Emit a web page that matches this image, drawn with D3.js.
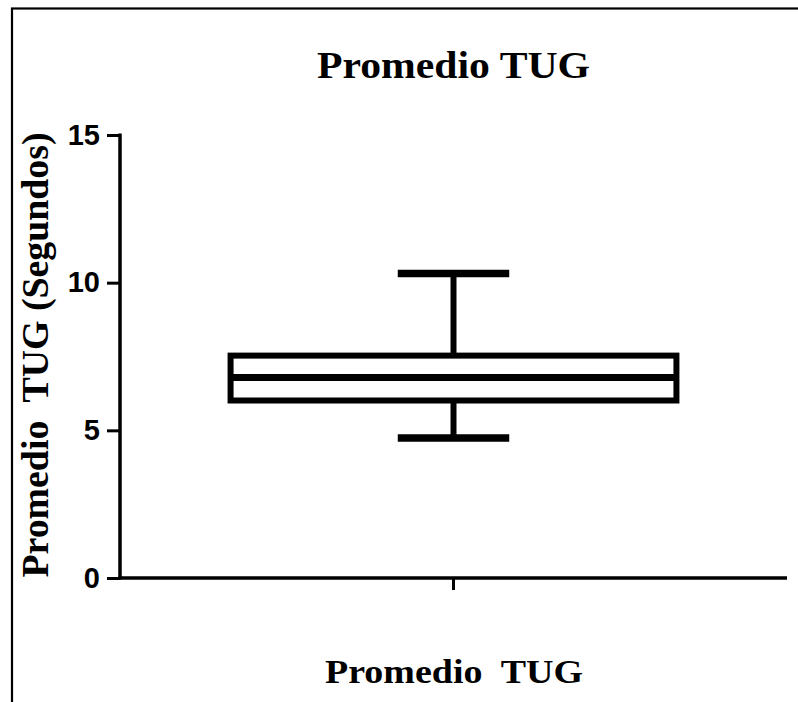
<!DOCTYPE html>
<html>
<head>
<meta charset="utf-8">
<script src="https://cdn.jsdelivr.net/npm/d3@7"></script>
<style>
  body { margin: 0; background: #fff; }
  svg { display: block; }
</style>
</head>
<body>
<svg id="canvas" width="798" height="702"></svg>
<script>
// box plot data (seconds)
let categories = ["Promedio TUG"];
let whiskerMin = [4.74];
let quartile1 = [6.01];
let medians = [6.79];
let quartile3 = [7.53];
let whiskerMax = [10.31];
let yTicks = [0, 5, 10, 15];

let canvas = d3.select("#canvas");

let plotLeft = 120, plotRight = 787;
let plotTop = 135, plotBottom = 578;

let xScale = d3.scaleBand()
    .domain(categories)
    .range([plotLeft, plotRight])
    .paddingInner(0)
    .paddingOuter(0.248);

let yScale = d3.scaleLinear()
    .domain([0, 15])
    .range([plotBottom, plotTop]);

// outer frame
canvas.append("rect")
    .attr("x", 12).attr("y", 8.5)
    .attr("width", 820).attr("height", 820)
    .attr("fill", "none")
    .attr("stroke", "#000")
    .attr("stroke-width", 2.2);

// y axis
let yAxis = canvas.append("g")
    .attr("transform", "translate(" + plotLeft + ",0)")
    .call(d3.axisLeft(yScale).tickValues(yTicks).tickSize(13).tickPadding(7).tickSizeOuter(0));

yAxis.select(".domain").attr("stroke-width", 3.5).attr("d", "M0," + (plotBottom + 1.5) + "V" + (plotTop - 1.5));
yAxis.selectAll(".tick line").attr("stroke-width", 3);
yAxis.selectAll(".tick text")
    .attr("font-family", "'Liberation Sans', Arial, sans-serif")
    .attr("font-weight", "bold")
    .attr("font-size", 29)
    .attr("fill", "#000");

// x axis
let xAxis = canvas.append("g")
    .attr("transform", "translate(0," + plotBottom + ")")
    .call(d3.axisBottom(xScale).tickSize(12).tickSizeOuter(0).tickFormat(""));

xAxis.select(".domain").attr("stroke-width", 3.5).attr("d", "M" + (plotLeft - 1.5) + ",0H" + plotRight);
xAxis.selectAll(".tick line").attr("stroke-width", 3);

// box plot
let boxes = canvas.selectAll(".box")
    .data(categories)
    .enter()
    .append("g")
    .attr("class", "box");

let bw = xScale.bandwidth();
let capW = bw / 4;

boxes.each(function(d, i) {
    let g = d3.select(this);
    let cx = xScale(d) + bw / 2;

    // whiskers
    g.append("line")
        .attr("x1", cx).attr("x2", cx)
        .attr("y1", yScale(quartile3[i])).attr("y2", yScale(whiskerMax[i]))
        .attr("stroke", "#000").attr("stroke-width", 6);
    g.append("line")
        .attr("x1", cx).attr("x2", cx)
        .attr("y1", yScale(quartile1[i])).attr("y2", yScale(whiskerMin[i]))
        .attr("stroke", "#000").attr("stroke-width", 6);

    // caps
    [whiskerMax[i], whiskerMin[i]].forEach(v => {
        g.append("line")
            .attr("x1", cx - capW / 2).attr("x2", cx + capW / 2)
            .attr("y1", yScale(v)).attr("y2", yScale(v))
            .attr("stroke", "#000").attr("stroke-width", 7.5);
    });

    // box
    g.append("rect")
        .attr("x", xScale(d))
        .attr("y", yScale(quartile3[i]))
        .attr("width", bw)
        .attr("height", yScale(quartile1[i]) - yScale(quartile3[i]))
        .attr("fill", "#fff")
        .attr("stroke", "#000")
        .attr("stroke-width", 6);

    // median
    g.append("line")
        .attr("x1", xScale(d)).attr("x2", xScale(d) + bw)
        .attr("y1", yScale(medians[i])).attr("y2", yScale(medians[i]))
        .attr("stroke", "#000").attr("stroke-width", 7);
});

// titles
let serif = "'Liberation Serif', 'Times New Roman', serif";

canvas.append("text")
    .attr("x", 453.5).attr("y", 78)
    .attr("text-anchor", "middle")
    .attr("font-family", serif)
    .attr("font-weight", "bold")
    .attr("font-size", 38)
    .attr("textLength", 273)
    .attr("lengthAdjust", "spacingAndGlyphs")
    .text("Promedio TUG");

canvas.append("text")
    .attr("x", 454).attr("y", 683)
    .attr("text-anchor", "middle")
    .attr("font-family", serif)
    .attr("font-weight", "bold")
    .attr("font-size", 33)
    .attr("textLength", 258)
    .attr("lengthAdjust", "spacingAndGlyphs")
    .style("white-space", "pre")
    .text("Promedio  TUG");

canvas.append("text")
    .attr("transform", "translate(48,355) rotate(-90)")
    .attr("text-anchor", "middle")
    .attr("font-family", serif)
    .attr("font-weight", "bold")
    .attr("font-size", 38)
    .attr("textLength", 445)
    .attr("lengthAdjust", "spacingAndGlyphs")
    .style("white-space", "pre")
    .text("Promedio  TUG (Segundos)");
</script>
</body>
</html>
